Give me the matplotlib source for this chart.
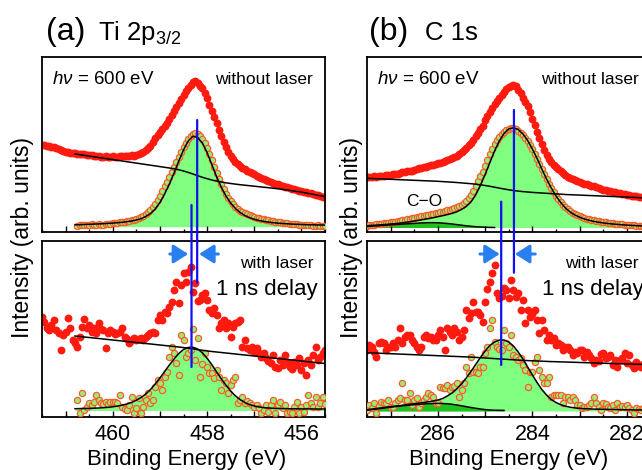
import numpy as np
import matplotlib
matplotlib.use("Agg")
import matplotlib.pyplot as plt
from matplotlib.ticker import MultipleLocator, FuncFormatter
from matplotlib.patches import ConnectionPatch

plt.rcParams['font.family'] = ['Liberation Sans', 'DejaVu Sans']
plt.rcParams['mathtext.fontset'] = 'custom'
plt.rcParams['mathtext.rm'] = 'Liberation Sans'
plt.rcParams['mathtext.it'] = 'Liberation Sans:italic'
plt.rcParams['mathtext.default'] = 'regular'

# ---------------- energy ranges ----------------
TI_RANGE = (461.5, 455.5)
C_RANGE = (287.5, 281.5)

# ---------------- Ti 2p3/2, without laser ----------------
ti_top_raw = [87, 87, 86, 86, 85, 85, 84, 83, 82, 81, 80,
              80, 79, 79, 79, 78, 78, 78, 78, 77, 77,
              77, 76, 76, 76, 75, 75, 76, 75, 75, 76,
              75, 75, 76, 76, 76, 76, 76, 77, 76, 77,
              78, 79, 80, 82, 84, 86, 90, 94, 97, 100,
              103, 106, 109, 113, 117, 121, 125, 129, 133, 137,
              141, 144, 147, 150, 151, 149, 146, 144, 139, 134,
              127, 121, 115, 109, 102, 96, 90, 85, 80, 76,
              73, 70, 68, 66, 64, 63, 61, 60, 59, 58,
              56, 55, 54, 53, 52, 51, 50, 49, 48, 48,
              47, 46, 45, 45, 44, 43, 43, 42, 41, 41,
              40, 40, 39, 39, 38, 37, 37, 36, 35, 35]
ti_top_sub_start = 460.75
ti_top_sub = [6, 7, 7, 7, 7, 7, 8, 7, 7, 8, 7, 7, 8, 8, 8, 9, 9, 9, 10, 10,
              10, 11, 11, 12, 12, 13, 14, 15, 16, 18, 20, 22, 25, 28, 32,
              36, 41, 46, 50, 55, 60, 65, 70, 75, 80, 85, 89, 93, 96, 98,
              99, 98, 96, 93, 89, 84, 78, 72, 65, 59, 53, 48, 43, 38, 34,
              31, 28, 25, 23, 21, 20, 19, 18, 17, 16, 15, 14, 14, 13, 13,
              12, 12, 11, 11, 10, 10, 10, 9, 9, 9, 8, 8, 8, 8, 7,
              7, 7, 7, 7, 7, 6, 6, 7, 6, 6, 6]
ti_line_range = (460.8, 455.5)
ti_top_bg = [78.0, 77.3, 76.6, 75.9, 75.2, 74.5, 73.8, 73.1, 72.4, 71.7, 71.0,
             70.3, 69.6, 68.9, 68.2, 67.5, 66.8, 66.1, 65.4, 64.7, 64.0,
             63.2, 62.2, 61.0, 59.6, 58.0, 56.3, 54.7, 53.3, 52.0, 50.9,
             50.0, 49.2, 48.5, 47.9, 47.3, 46.8, 46.3, 45.8, 45.3, 44.8,
             44.3, 43.8, 43.2, 42.6, 42.0, 41.3, 40.6, 39.9, 39.0, 38.1,
             37.2, 36.3, 35.4]
ti_top_fit = [7.2, 7.3, 7.5, 7.7, 7.9, 8.1, 8.3, 8.6, 8.9, 9.3, 9.7,
              10.3, 11.0, 12.0, 13.3, 15.5, 18.5, 23.0, 29.5, 38.0, 48.0,
              59.0, 71.0, 82.0, 91.0, 95.8, 94.5, 89.0, 79.5, 67.5, 55.5,
              45.0, 36.0, 29.0, 23.5, 19.5, 16.5, 14.3, 12.7, 11.5, 10.6,
              9.9, 9.3, 8.9, 8.5, 8.2, 7.9, 7.7, 7.5, 7.3, 7.2,
              7.1, 7.0, 6.9]

# ---------------- Ti 2p3/2, with laser, 1 ns delay ----------------
ti_bot_raw = [100, 95, 89, 87, 92, 97, 87, 84, 67, 82,
              85, 99, 89, 77, 74, 70, 80, 90, 98, 89,
              92, 85, 89, 84, 94, 88, 87, 69, 84, 87,
              85, 83, 84, 85, 89, 80, 78, 74, 77, 79,
              77, 78, 79, 77, 80, 82, 84, 85, 84, 97,
              102, 97, 105, 104, 110, 115, 127, 135, 114, 132,
              144, 135, 145, 150, 125, 134, 116, 117, 122, 124,
              117, 107, 104, 109, 102, 89, 94, 97, 89, 94,
              80, 90, 94, 95, 97, 70, 77, 69, 67, 70,
              65, 69, 64, 60, 64, 59, 56, 54, 62, 50,
              49, 57, 52, 62, 55, 50, 48, 55, 52, 59,
              47, 54, 42, 57, 52, 62, 70, 57, 60, 64, 67]
ti_bot_sub_start = 460.75
ti_bot_sub = [17, 4, 24, 7, 10, 14, 12, 15, 22, 17,
              14, 13, 15, 13, 15, 15, 15, 14, 22, 10,
              8, 7, 12, 20, 4, 9, 19, 4, 10, 17,
              24, 14, 17, 30, 37, 34, 27, 40, 45, 60,
              70, 64, 54, 42, 82, 77, 60, 64, 67, 88,
              57, 79, 40, 53, 64, 50, 44, 44, 39, 47,
              40, 27, 37, 34, 24, 32, 37, 40, 14, 17,
              20, 14, 16, 14, 12, 10, 12, 9, 4, 7,
              12, 5, 12, 17, 4, 12, 15, 9, 12, 4,
              5, 4, 10, 15, 4, 10, 5, 12, 22, 14,
              10, 20, 10, 14, 20, 13]
ti_bot_bg = [81.0, 80.5, 80.0, 79.5, 79.0, 78.5, 78.0, 77.5, 77.0, 76.5,
             76.0, 75.5, 75.0, 74.5, 74.0, 73.5, 73.0, 72.5, 72.0, 71.5,
             71.0, 70.5, 70.0, 69.4, 68.8, 68.1, 67.4, 66.7, 66.1, 65.5,
             65.0, 64.5, 64.0, 63.5, 63.0, 62.5, 62.0, 61.5, 61.0, 60.5,
             60.0, 59.5, 59.0, 58.5, 58.0, 57.5, 57.0, 56.5, 56.0, 55.5,
             55.0, 54.5, 54.0, 53.5]
ti_bot_fit = [8.3, 8.4, 8.5, 8.6, 8.8, 9.0, 9.3, 9.7, 10.2, 10.9,
              11.8, 13.0, 14.6, 16.7, 19.5, 23.0, 27.5, 33.0, 39.0, 45.5,
              52.0, 58.0, 63.5, 67.5, 69.6, 69.8, 68.0, 64.2, 58.8, 52.3,
              45.2, 38.2, 31.8, 26.0, 21.2, 17.4, 14.5, 12.4, 11.0, 10.0,
              9.4, 9.0, 8.7, 8.5, 8.4, 8.3, 8.2, 8.2, 8.1, 8.1,
              8.1, 8.0, 8.0, 8.0]

# ---------------- C 1s, without laser ----------------
c_top_raw = [55, 55, 55, 56, 55, 56, 56, 56, 57, 57,
             57, 58, 58, 58, 59, 60, 60, 61, 61, 61,
             62, 63, 64, 64, 65, 65, 66, 67, 67, 68,
             69, 69, 70, 71, 72, 73, 74, 75, 76, 78,
             80, 82, 84, 87, 89, 92, 96, 99, 103, 106,
             112, 116, 120, 124, 128, 131, 134, 137, 140, 143,
             145, 146, 147, 146, 142, 139, 134, 130, 126, 120,
             113, 107, 100, 94, 88, 82, 77, 73, 70, 67,
             65, 63, 61, 59, 57, 55, 54, 53, 52, 51,
             50, 49, 48, 48, 47, 46, 46, 45, 44, 43,
             42, 42, 41, 41, 40, 40, 39, 39, 38, 38,
             37, 37, 36, 36, 36, 35, 35, 35, 34, 34, 34]
c_top_sub = [6, 7, 7, 7, 8, 8, 8, 9, 9, 9,
             10, 10, 10, 11, 11, 12, 12, 13, 13, 14,
             14, 15, 15, 16, 16, 17, 17, 18, 18, 19,
             19, 20, 20, 21, 22, 22, 23, 24, 25, 26,
             27, 29, 31, 34, 37, 41, 46, 51, 56, 60,
             66, 72, 78, 83, 88, 92, 95, 98, 100, 102,
             103, 104, 104, 103, 101, 99, 97, 94, 91, 87,
             83, 78, 73, 68, 63, 58, 53, 48, 44, 40,
             36, 33, 30, 27, 25, 23, 21, 19, 18, 17,
             16, 15, 14, 13, 13, 12, 12, 11, 11, 10,
             10, 10, 9, 9, 9, 8, 8, 8, 8, 7,
             7, 7, 7, 7, 6, 6, 6, 6, 6, 6, 6]
c_top_bg = [53.7, 53.5, 53.3, 53.1, 52.9, 52.7, 52.5, 52.3, 52.1, 51.9,
            51.7, 51.5, 51.3, 51.1, 50.9, 50.7, 50.4, 50.1, 49.8, 49.5,
            49.1, 48.7, 48.3, 47.8, 47.2, 46.5, 45.7, 44.8, 43.9, 43.0,
            42.2, 41.5, 40.9, 40.4, 40.0, 39.6, 39.3, 39.0, 38.7, 38.4,
            38.1, 37.8, 37.5, 37.3, 37.1, 36.9, 36.7, 36.5, 36.3, 36.1,
            35.9, 35.7, 35.5, 35.3, 35.1, 34.9, 34.7, 34.5, 34.3, 34.1, 33.9]
c_top_fit = [6.3, 6.6, 6.9, 7.2, 7.6, 8.0, 8.4, 8.9, 9.5, 10.2,
             11.0, 11.8, 12.6, 13.4, 14.3, 15.3, 16.3, 17.4, 18.6, 20.2,
             22.5, 25.5, 30.0, 37.0, 46.5, 57.5, 69.5, 81.0, 91.0, 98.5,
             103.0, 104.3, 102.5, 98.0, 91.5, 83.0, 73.5, 63.0, 53.0, 44.0,
             36.0, 29.5, 24.0, 20.0, 17.0, 14.8, 13.0, 11.7, 10.6, 9.8,
             9.1, 8.5, 8.0, 7.6, 7.2, 6.9, 6.6, 6.3, 6.1, 5.9, 5.7]
co_range = (287.5, 284.8)
c_top_co = [5.5, 5.8, 6.1, 6.4, 6.8, 7.1, 7.4, 7.7, 8.0, 8.3,
            8.6, 8.9, 9.1, 9.3, 9.3, 9.2, 8.9, 8.5, 8.0, 7.4,
            6.8, 6.2, 5.7, 5.3, 5.0, 4.8, 4.6, 4.5]

# ---------------- C 1s, with laser, 1 ns delay ----------------
c_bot_raw = [67, 72, 70, 65, 60, 74, 75, 74, 67, 70,
             70, 74, 70, 77, 89, 74, 80, 82, 82, 77,
             74, 70, 67, 70, 80, 82, 79, 80, 77, 77,
             82, 87, 80, 67, 89, 85, 82, 89, 85, 77,
             80, 87, 107, 99, 104, 115, 105, 105, 102, 95,
             115, 128, 135, 144, 152, 124, 119, 121, 129, 127,
             119, 137, 127, 120, 124, 107, 117, 94, 107, 100,
             103, 107, 97, 84, 97, 87, 77, 82, 77, 79,
             72, 74, 72, 67, 70, 70, 67, 62, 65, 64,
             67, 67, 60, 65, 62, 59, 54, 57, 56, 63,
             64, 59, 60, 62, 52, 57, 50, 57, 59, 64,
             54, 62, 52, 49, 55, 51, 50, 53, 49, 52, 50]
c_bot_sub = [7, 12, 9, 14, 4, 11, 15, 14, 14, 17,
             10, 10, 14, 17, 19, 34, 17, 17, 24, 12,
             17, 19, 10, 14, 17, 20, 24, 22, 20, 14,
             14, 30, 29, 29, 32, 27, 30, 31, 34, 20,
             27, 34, 50, 44, 60, 45, 45, 44, 50, 50,
             64, 70, 89, 97, 75, 70, 68, 67, 87, 74,
             70, 82, 62, 60, 57, 59, 52, 47, 30, 45,
             45, 55, 60, 47, 40, 34, 34, 40, 20, 22,
             22, 22, 22, 14, 20, 20, 17, 20, 17, 12,
             12, 9, 10, 10, 12, 14, 20, 14, 10, 7,
             14, 13, 10, 9, 12, 7, 14, 10, 11, 10,
             12, 9, 7, 4, 9, 8, 7, 9, 6, 8, 7]
c_bot_bg = [64.3, 64.1, 63.9, 63.7, 63.5, 63.3, 63.1, 62.9, 62.7, 62.5,
            62.3, 62.1, 61.9, 61.7, 61.5, 61.3, 61.1, 60.9, 60.7, 60.5,
            60.3, 60.1, 59.9, 59.6, 59.3, 59.0, 58.7, 58.4, 58.1, 57.8,
            57.5, 57.2, 56.9, 56.6, 56.4, 56.2, 56.0, 55.8, 55.6, 55.4,
            55.3, 55.1, 55.0, 54.8, 54.7, 54.5, 54.4, 54.2, 54.1, 53.9,
            53.8, 53.6, 53.5, 53.3, 53.2, 53.0, 52.9, 52.7, 52.6, 52.4, 52.3]
c_bot_fit = [7.3, 7.9, 8.5, 9.1, 9.7, 10.3, 10.9, 11.5, 12.1, 12.7,
             13.3, 13.9, 14.5, 15.2, 16.0, 17.0, 18.5, 21.0, 24.0, 28.0,
             33.0, 39.0, 45.5, 52.5, 59.5, 66.0, 71.5, 75.0, 77.0, 77.0,
             75.0, 71.0, 65.0, 58.0, 50.0, 42.0, 34.5, 27.5, 22.0, 17.5,
             14.5, 12.3, 10.8, 9.8, 9.1, 8.6, 8.3, 8.1, 7.9, 7.8,
             7.7, 7.6, 7.5, 7.4, 7.3, 7.2, 7.1, 7.0, 7.0, 6.9, 6.9]
co_bot_range = (287.5, 284.6)
c_bot_co = [6.8, 7.4, 8.0, 8.6, 9.2, 9.8, 10.4, 10.9, 11.4, 11.9,
            12.3, 12.7, 13.0, 13.3, 13.5, 13.6, 13.5, 13.2, 12.7, 12.0,
            11.2, 10.3, 9.5, 8.7, 8.0, 7.4, 7.0, 6.8, 6.7, 6.6]

# peak positions (blue markers)
ti_peak_without, ti_peak_with = 458.21, 458.33
c_peak_without, c_peak_with = 284.39, 284.66

# ---------------- styles ----------------
RED = '#FF1A10'
FILL = '#80FF80'
DARKFILL = '#1FC01F'
HOLLOW_FACE = '#96EE76'
HOLLOW_EDGE = '#FF5A2A'
BLUE = '#1010F0'
ARROW = '#2A7FF0'

W, H = 642, 470
fig = plt.figure(figsize=(W / 100, H / 100), dpi=100)


def px_axes(x0, y_top, w, h):
    return fig.add_axes([x0 / W, 1 - (y_top + h) / H, w / W, h / H])


ax_ti_top = px_axes(42, 57, 283, 175)
ax_ti_bot = px_axes(42, 241, 283, 176)
ax_c_top = px_axes(367, 57, 283.5, 175)
ax_c_bot = px_axes(367, 241, 283.5, 176)


def lin(rng, vals):
    return np.linspace(rng[0], rng[1], len(vals))


def draw(ax, rng, raw, sub_start, sub, bg, fit, base, co=None, co_rng=None):
    E = lin(rng, raw)
    Eb = lin(ti_line_range if rng == TI_RANGE else rng, bg)
    Ef = lin(ti_line_range if rng == TI_RANGE else rng, fit)
    Es = np.linspace(sub_start, rng[1], len(sub))
    ax.fill_between(Ef, base, fit, color=FILL, lw=0, zorder=1)
    if co is not None:
        Ec = lin(co_rng, co)
        ax.fill_between(Ec, base, co, color=DARKFILL, lw=0, zorder=1.1)
    ax.scatter(E, raw, s=32, color=RED, lw=0, zorder=2)
    ax.scatter(Es, sub, s=20, facecolor=HOLLOW_FACE, edgecolor=HOLLOW_EDGE,
               linewidths=0.9, zorder=3)
    ax.plot(Eb, bg, color='black', lw=1.1, zorder=4)
    ax.plot(Ef, fit, color='black', lw=1.1, zorder=4)
    if co is not None:
        ax.plot(Ec, co, color='black', lw=1.1, zorder=4)


draw(ax_ti_top, TI_RANGE, ti_top_raw, ti_top_sub_start, ti_top_sub,
     ti_top_bg, ti_top_fit, 5.3)
draw(ax_ti_bot, TI_RANGE, ti_bot_raw, ti_bot_sub_start, ti_bot_sub,
     ti_bot_bg, ti_bot_fit, 6.5)
draw(ax_c_top, C_RANGE, c_top_raw, C_RANGE[0], c_top_sub,
     c_top_bg, c_top_fit, 4.5, c_top_co, co_range)
draw(ax_c_bot, C_RANGE, c_bot_raw, C_RANGE[0], c_bot_sub,
     c_bot_bg, c_bot_fit, 6.0, c_bot_co, co_bot_range)

even_fmt = FuncFormatter(lambda v, p: f'{v:.0f}' if round(v) % 2 == 0 else '')
for ax, rng, hmax, show in [(ax_ti_top, TI_RANGE, 175, False),
                            (ax_ti_bot, TI_RANGE, 176, True),
                            (ax_c_top, C_RANGE, 175, False),
                            (ax_c_bot, C_RANGE, 176, True)]:
    ax.set_xlim(rng)
    ax.set_ylim(0, hmax)
    ax.set_yticks([])
    ax.xaxis.set_major_locator(MultipleLocator(1))
    ax.xaxis.set_minor_locator(MultipleLocator(0.5))
    ax.xaxis.set_major_formatter(even_fmt)
    ax.tick_params(axis='x', which='major', direction='in', length=4.5,
                   width=1.0, labelsize=15.5, pad=5, labelbottom=show)
    ax.tick_params(axis='x', which='minor', direction='in', length=2.2,
                   width=1.0, labelbottom=False)
    for s in ax.spines.values():
        s.set_linewidth(1.3)

ax_ti_top.set_zorder(3)
ax_c_top.set_zorder(3)

# blue peak-position lines crossing both panels
for axt, axb, e, y1, y2 in [(ax_ti_top, ax_ti_bot, ti_peak_without, 112, 134.3),
                            (ax_ti_top, ax_ti_bot, ti_peak_with, 27, 50),
                            (ax_c_top, ax_c_bot, c_peak_without, 122, 144.3),
                            (ax_c_top, ax_c_bot, c_peak_with, 30.3, 52)]:
    cp = ConnectionPatch((e, y1), (e, y2), coordsA='data', coordsB='data',
                         axesA=axt, axesB=axb, color=BLUE, lw=1.6, zorder=10)
    fig.add_artist(cp)

# shift arrows
for ax, (a0, a1), (b0, b1) in [(ax_ti_bot, (458.79, 458.40), (457.76, 458.17)),
                               (ax_c_bot, (285.11, 284.69), (283.94, 284.37))]:
    for s, e in [(a0, a1), (b0, b1)]:
        ax.annotate('', xy=(e, 163), xytext=(s, 163),
                    arrowprops=dict(arrowstyle='-|>,head_length=0.55,head_width=0.35',
                                    color=ARROW, lw=2.2, shrinkA=0, shrinkB=0,
                                    mutation_scale=16), zorder=6)

# texts in panels
for ax in (ax_ti_top, ax_c_top):
    ax.text(0.037, 0.869, r'$\mathit{h\nu}$ = 600 eV', transform=ax.transAxes,
            fontsize=13.5, ha='left', va='center')
    ax.text(0.957, 0.869, 'without laser', transform=ax.transAxes,
            fontsize=12.5, ha='right', va='center')
for ax in (ax_ti_bot, ax_c_bot):
    ax.text(0.959, 0.873, 'with laser', transform=ax.transAxes,
            fontsize=12.5, ha='right', va='center')
    ax.text(0.975, 0.722, '1 ns delay', transform=ax.transAxes,
            fontsize=16, ha='right', va='center')
ax_c_top.text(0.201, 0.177, 'C\u2212O', transform=ax_c_top.transAxes,
              fontsize=12.5, ha='center', va='center')

# titles
fig.text(46 / W, 1 - 40 / H, '(a)', fontsize=23, ha='left', va='baseline')
fig.text(98 / W, 1 - 40 / H, r'Ti 2p$_{3/2}$', fontsize=18.5, ha='left', va='baseline')
fig.text(369 / W, 1 - 40 / H, '(b)', fontsize=23, ha='left', va='baseline')
fig.text(425 / W, 1 - 40 / H, 'C 1s', fontsize=18.5, ha='left', va='baseline')

# axis labels
for xc in (23, 352):
    fig.text(xc / W, 1 - 237 / H, 'Intensity (arb. units)', rotation=90,
             fontsize=16.5, ha='center', va='center')
for xc in (187, 508.5):
    fig.text(xc / W, 1 - 460 / H, 'Binding Energy (eV)', fontsize=16,
             ha='center', va='center')

fig.savefig('out.png', dpi=100)
